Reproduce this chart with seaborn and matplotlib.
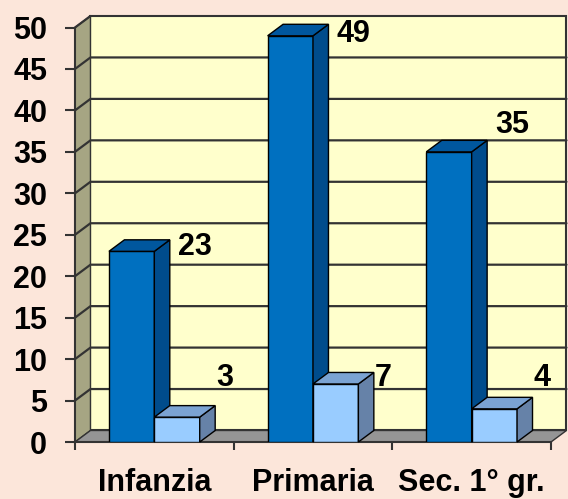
import pandas as pd
import matplotlib
matplotlib.use('Agg')
import matplotlib.pyplot as plt
from matplotlib.patches import Polygon
import seaborn as sns

categories = ['Infanzia', 'Primaria', 'Sec. 1° gr.']
series_names = ['Totale', 'Parziale']
dark_values = [23, 49, 35]
light_values = [3, 7, 4]
y_ticks = [0, 5, 10, 15, 20, 25, 30, 35, 40, 45, 50]

# where excel put the value labels (not on the bar tops)
dark_label_y = [23.5, 49.2, 38.2]
light_label_y = [7.7, 7.7, 7.7]

df = pd.DataFrame({
    'Categoria': categories * 2,
    'Serie': [series_names[0]] * 3 + [series_names[1]] * 3,
    'Valore': dark_values + light_values,
})

sns.set_style('white')
plt.rcParams['font.family'] = ['Liberation Sans', 'DejaVu Sans']
plt.rcParams['text.color'] = 'black'
plt.rcParams['xtick.color'] = 'black'
plt.rcParams['ytick.color'] = 'black'

bg = '#FCE6DA'
fig = plt.figure(figsize=(5.68, 4.99), dpi=100, facecolor=bg)
ax = fig.add_axes([75 / 568, 57 / 499, 476 / 568, 426 / 499])
ax.set_facecolor('none')

sns.barplot(data=df, x='Categoria', y='Valore', hue='Serie', order=categories,
            hue_order=series_names, palette=['#0070C0', '#99CCFF'], saturation=1,
            width=0.572, gap=0, edgecolor='black', linewidth=1, legend=False,
            errorbar=None, ax=ax)

ymax = max(y_ticks)
dx = 15.5 / 159
dy = 11.5 / 8.28
ax.set_xlim(-0.5, 2.5)
ax.set_ylim(0, ymax + dy)

edge = '#333333'
# walls and floor
x0, x1 = -0.5, 2.5
ax.add_patch(Polygon([(x0 + dx, dy), (x1 + dx, dy), (x1 + dx, ymax + dy), (x0 + dx, ymax + dy)],
                     closed=True, facecolor='#FFFFCC', edgecolor=edge, lw=1.5, zorder=0.5, clip_on=False))
ax.add_patch(Polygon([(x0, 0), (x0 + dx, dy), (x0 + dx, ymax + dy), (x0, ymax)],
                     closed=True, facecolor='#A6A583', edgecolor=edge, lw=1, zorder=0.6, clip_on=False))
ax.add_patch(Polygon([(x0, 0), (x1, 0), (x1 + dx, dy), (x0 + dx, dy)],
                     closed=True, facecolor='#959595', edgecolor=edge, lw=1, zorder=0.7, clip_on=False))
for v in y_ticks[1:-1]:
    ax.plot([x0, x0 + dx, x1 + dx], [v, v + dy, v + dy], color=edge, lw=1.6, zorder=0.8, clip_on=False)
ax.plot([x0, x0 + dx], [ymax, ymax + dy], color=edge, lw=1.6, zorder=0.8, clip_on=False)

# 3d faces on the seaborn bars
side_cols = ['#004C8C', '#6682A8']
top_cols = ['#00579E', '#7BA3D3']
for k, cont in enumerate(ax.containers):
    z = 3 + k
    for p in cont.patches:
        p.set_zorder(z)
        bx, w, h = p.get_x(), p.get_width(), p.get_height()
        ax.add_patch(Polygon([(bx + w, 0), (bx + w + dx, dy), (bx + w + dx, h + dy), (bx + w, h)],
                             closed=True, facecolor=side_cols[k], edgecolor='black', lw=1, zorder=z, clip_on=False))
        ax.add_patch(Polygon([(bx, h), (bx + dx, h + dy), (bx + w + dx, h + dy), (bx + w, h)],
                             closed=True, facecolor=top_cols[k], edgecolor='black', lw=1, zorder=z, clip_on=False))

# value labels
dark_bars = ax.containers[0].patches
light_bars = ax.containers[1].patches
for p, v, ly in zip(dark_bars, dark_values, dark_label_y):
    ax.text(p.get_x() + p.get_width() / 2 + 0.40, ly, str(v), ha='center', va='center',
            fontsize=22, fontweight='bold', color='black', zorder=6)
for p, v, ly in zip(light_bars, light_values, light_label_y):
    ax.text(p.get_x() + p.get_width() / 2 + 0.30, ly, str(v), ha='center', va='center',
            fontsize=22, fontweight='bold', color='black', zorder=6)

for s in ['top', 'right']:
    ax.spines[s].set_visible(False)
ax.spines['left'].set_bounds(0, ymax)
ax.spines['left'].set_color(edge)
ax.spines['left'].set_linewidth(1.5)
ax.spines['left'].set_zorder(1)
ax.spines['bottom'].set_color(edge)
ax.spines['bottom'].set_linewidth(1.5)

ax.set_yticks(y_ticks)
ax.set_yticklabels([str(t) for t in y_ticks], fontsize=22, fontweight='bold', color='black')
ax.tick_params(axis='y', direction='out', length=7, width=1.5, color=edge, pad=13, left=True)

ax.set_xticks([-0.5, 0.5, 1.5, 2.5])
ax.set_xticklabels([])
ax.set_xticks([0, 1, 2], minor=True)
ax.set_xticklabels(categories, minor=True, fontsize=22, fontweight='bold', color='black')
ax.tick_params(axis='x', which='major', direction='out', length=6, width=1.5, color=edge, bottom=True)
ax.tick_params(axis='x', which='minor', length=0, pad=19)
ax.set_xlabel('')
ax.set_ylabel('')

fig.savefig('out.png', dpi=100, facecolor=bg)
